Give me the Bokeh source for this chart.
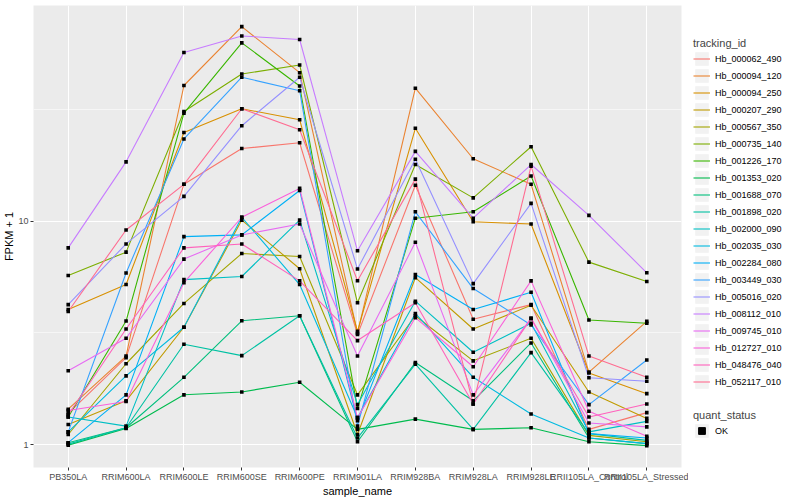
from bokeh.plotting import figure
from bokeh.layouts import row
from bokeh.models import FactorRange, Range1d, FixedTicker, Legend, LegendItem, ColumnDataSource
from bokeh.embed import file_html
from bokeh.resources import INLINE

samples = ["PB350LA", "RRIM600LA", "RRIM600LE", "RRIM600SE", "RRIM600PE", "RRIM901LA",
           "RRIM928BA", "RRIM928LA", "RRIM928LE", "RRII105LA_Control", "RRII105LA_Stressed"]

Hb_000062_490 = [1.38, 2.45, 14.6, 21.1, 22.4, 3.11, 14.45, 3.64, 4.23, 1.17, 1.39]
Hb_000094_120 = [1.44, 2.49, 40.4, 74.1, 46.1, 3.15, 39.3, 19.0, 14.6, 2.11, 3.56]
Hb_000094_250 = [4.02, 5.2, 24.9, 31.8, 28.4, 3.21, 26.0, 9.93, 9.70, 2.09, 1.69]
Hb_000207_290 = [1.23, 1.57, 3.35, 10.1, 6.12, 1.11, 5.58, 3.29, 4.20, 1.72, 1.31]
Hb_000567_350 = [1.11, 2.30, 4.28, 7.16, 6.94, 1.67, 3.77, 2.37, 2.99, 1.10, 1.03]
Hb_000735_140 = [5.71, 7.26, 30.9, 45.5, 49.9, 4.31, 17.9, 12.7, 21.5, 6.55, 5.37]
Hb_001226_170 = [1.33, 3.57, 30.4, 62.7, 40.2, 1.45, 10.3, 11.0, 15.9, 3.61, 3.49]
Hb_001353_020 = [0.995, 1.18, 1.67, 1.72, 1.90, 1.17, 1.30, 1.17, 1.19, 1.03, 0.99]
Hb_001688_070 = [1.02, 1.19, 2.0, 3.58, 3.77, 1.03, 2.33, 1.57, 2.85, 1.07, 1.01]
Hb_001898_020 = [1.005, 1.19, 2.81, 2.50, 3.77, 1.07, 2.29, 1.17, 2.58, 1.12, 1.045]
Hb_002000_090 = [1.33, 1.21, 5.47, 5.65, 10.1, 1.51, 4.38, 2.59, 3.49, 1.14, 1.27]
Hb_002035_030 = [1.14, 2.03, 3.35, 10.4, 5.2, 1.32, 3.86, 2.0, 1.37, 1.07, 1.01]
Hb_002284_080 = [1.02, 1.67, 8.52, 8.67, 13.7, 1.28, 5.77, 4.02, 4.80, 1.12, 1.07]
Hb_003449_030 = [1.14, 5.86, 23.3, 44.0, 38.3, 1.21, 11.0, 4.99, 3.43, 1.51, 2.39]
Hb_005016_020 = [4.23, 7.9, 12.9, 26.7, 44.0, 6.1, 18.9, 5.25, 12.0, 1.99, 1.92]
Hb_008112_010 = [7.59, 18.4, 56.8, 67.3, 64.9, 7.36, 20.5, 10.3, 17.9, 10.6, 5.87]
Hb_009745_010 = [2.14, 2.99, 6.76, 8.67, 9.70, 2.49, 8.04, 1.67, 3.67, 1.25, 1.20]
Hb_012727_010 = [1.42, 1.56, 5.30, 10.4, 14.0, 1.32, 3.70, 2.23, 5.40, 1.41, 1.09]
Hb_048476_040 = [1.36, 3.29, 7.59, 7.9, 5.40, 2.92, 4.31, 1.52, 3.67, 1.33, 1.52]
Hb_052117_010 = [3.94, 9.12, 14.6, 31.8, 25.6, 5.41, 15.4, 1.52, 17.6, 2.49, 2.0]

tracking_ids = ["Hb_000062_490", "Hb_000094_120", "Hb_000094_250", "Hb_000207_290", "Hb_000567_350",
                "Hb_000735_140", "Hb_001226_170", "Hb_001353_020", "Hb_001688_070", "Hb_001898_020",
                "Hb_002000_090", "Hb_002035_030", "Hb_002284_080", "Hb_003449_030", "Hb_005016_020",
                "Hb_008112_010", "Hb_009745_010", "Hb_012727_010", "Hb_048476_040", "Hb_052117_010"]
series_values = [Hb_000062_490, Hb_000094_120, Hb_000094_250, Hb_000207_290, Hb_000567_350,
                 Hb_000735_140, Hb_001226_170, Hb_001353_020, Hb_001688_070, Hb_001898_020,
                 Hb_002000_090, Hb_002035_030, Hb_002284_080, Hb_003449_030, Hb_005016_020,
                 Hb_008112_010, Hb_009745_010, Hb_012727_010, Hb_048476_040, Hb_052117_010]
quant_status = ["OK"]

colors = ["#F8766D", "#EA8331", "#D89000", "#C09B00", "#A3A500", "#7CAE00", "#39B600", "#00BB4E",
          "#00BF7D", "#00C1A3", "#00BFC4", "#00BAE0", "#00B0F6", "#35A2FF", "#9590FF", "#C77CFF",
          "#E76BF3", "#FA62DB", "#FF62BC", "#FF6C91"]

FONT = "Liberation Sans"
TOTAL_H = 497

p = figure(x_range=FactorRange(*samples, range_padding=0.1, range_padding_units="absolute"),
           y_range=Range1d(0.79, 92.1), y_axis_type="log",
           frame_width=648, frame_height=462,
           min_border_left=0, min_border_right=7, min_border_top=5, min_border_bottom=0,
           output_backend="svg", toolbar_location=None)

p.background_fill_color = "#EBEBEB"
p.border_fill_color = "white"
p.outline_line_color = None

p.yaxis.ticker = FixedTicker(ticks=[1, 10], minor_ticks=[3.16228, 31.6228])
p.yaxis.major_label_overrides = {1: "1", 10: "10"}
p.ygrid.grid_line_color = "white"
p.ygrid.grid_line_width = 1.1
p.ygrid.minor_grid_line_color = "white"
p.ygrid.minor_grid_line_width = 0.55
p.xgrid.grid_line_color = "white"
p.xgrid.grid_line_width = 1.1

for ax in (p.xaxis[0], p.yaxis[0]):
    ax.axis_line_color = None
    ax.major_tick_in = 0
    ax.major_tick_out = 3
    ax.major_tick_line_color = "#333333"
    ax.major_tick_line_width = 1
    ax.minor_tick_line_color = None
    ax.major_label_text_font = FONT
    ax.major_label_text_font_size = "9px"
    ax.major_label_text_color = "#4D4D4D"
    ax.major_label_standoff = 1
    ax.axis_label_text_font = FONT
    ax.axis_label_text_font_size = "11px"
    ax.axis_label_text_font_style = "normal"
    ax.axis_label_text_color = "black"
    ax.axis_label_standoff = 0

p.xaxis.axis_label = "sample_name"
p.yaxis.axis_label = "FPKM + 1"

for tid, vals, col in zip(tracking_ids, series_values, colors):
    src = ColumnDataSource(dict(sample=samples, fpkm=vals))
    p.line(x="sample", y="fpkm", source=src, line_color=col, line_width=1.1)

for vals in series_values:
    src = ColumnDataSource(dict(sample=samples, fpkm=vals))
    p.scatter(x="sample", y="fpkm", source=src, marker="square", size=3.6,
              fill_color="black", line_color=None)

# legend panel (separate figure so that the legends are not clipped)
lf = figure(width=108, height=TOTAL_H, x_range=Range1d(0, 1), y_range=Range1d(0, 1),
            x_axis_location=None, y_axis_location=None,
            min_border_left=0, min_border_right=0, min_border_top=0, min_border_bottom=0,
            output_backend="svg", toolbar_location=None)
lf.outline_line_color = None
lf.background_fill_color = "white"
lf.grid.visible = False

off = ColumnDataSource(dict(x=[5.0, 6.0], y=[5.0, 5.0]))
key_bg = lf.rect(x="x", y="y", width=0.1, height=0.1, source=off,
                 fill_color="#F2F2F2", line_color=None)
items = []
for tid, col in zip(tracking_ids, colors):
    r = lf.line(x="x", y="y", source=off, line_color=col, line_width=1.1)
    items.append(LegendItem(label=tid, renderers=[key_bg, r]))
ok_pt = lf.scatter(x="x", y="y", source=off, marker="square", size=4,
                   fill_color="black", line_color="black")

common = dict(orientation="vertical", glyph_width=17, glyph_height=17, label_height=17,
              spacing=0, padding=0, margin=0, label_standoff=5,
              label_text_font=FONT, label_text_font_size="9px", label_text_color="black",
              title_text_font=FONT, title_text_font_size="11px", title_text_font_style="normal",
              title_standoff=1, border_line_color=None, background_fill_alpha=0)

leg1 = Legend(items=items, location=(5, 75), title="tracking_id", **common)
leg2 = Legend(items=[LegendItem(label=quant_status[0], renderers=[key_bg, ok_pt])],
              location=(5, 26), title="quant_status", **common)
lf.add_layout(leg1)
lf.add_layout(leg2)

open("out.html", "w").write(file_html(row(p, lf), INLINE))
